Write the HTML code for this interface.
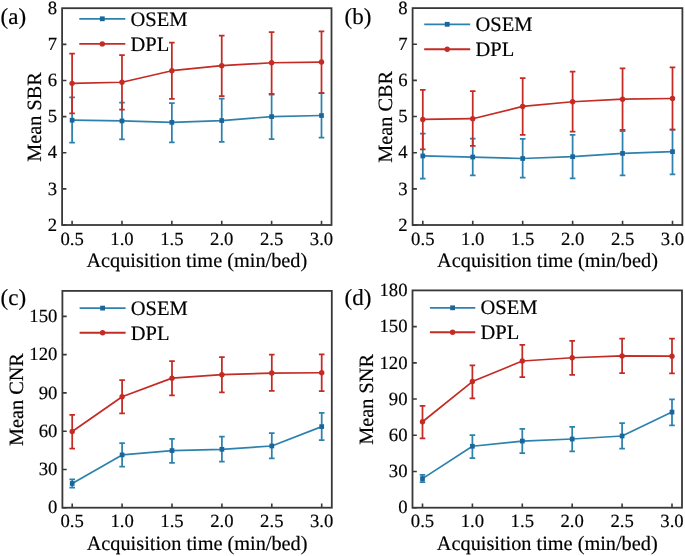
<!DOCTYPE html>
<html><head><meta charset="utf-8"><style>
html,body{margin:0;padding:0;background:#fff;width:685px;height:556px;overflow:hidden}
svg{display:block}
text{font-family:"Liberation Serif", serif;fill:#000;stroke:#000;stroke-width:0.18px}
svg{will-change:transform}
text{text-rendering:geometricPrecision}
</style></head><body>
<svg width="685" height="556" viewBox="0 0 685 556">
<rect width="685" height="556" fill="#fff"/>
<polyline points="72.1,120.21 121.98,120.94 171.86,122.38 221.74,120.57 271.62,116.6 321.5,115.52" fill="none" stroke="#2d82ad" stroke-width="1.7" stroke-linejoin="round"/>
<path d="M72.1 97.45V142.62M69.3 97.45H74.9M69.3 142.62H74.9" stroke="#2d82ad" stroke-width="1.75" fill="none"/>
<path d="M121.98 102.51V139.36M119.18 102.51H124.78M119.18 139.36H124.78" stroke="#2d82ad" stroke-width="1.75" fill="none"/>
<path d="M171.86 103.23V142.25M169.06 103.23H174.66M169.06 142.25H174.66" stroke="#2d82ad" stroke-width="1.75" fill="none"/>
<path d="M221.74 98.53V141.89M218.94 98.53H224.54M218.94 141.89H224.54" stroke="#2d82ad" stroke-width="1.75" fill="none"/>
<path d="M271.62 94.56V139M268.82 94.56H274.42M268.82 139H274.42" stroke="#2d82ad" stroke-width="1.75" fill="none"/>
<path d="M321.5 93.11V137.56M318.7 93.11H324.3M318.7 137.56H324.3" stroke="#2d82ad" stroke-width="1.75" fill="none"/>
<rect x="69.75" y="117.86" width="4.7" height="4.7" fill="#1a659c"/>
<rect x="119.63" y="118.59" width="4.7" height="4.7" fill="#1a659c"/>
<rect x="169.51" y="120.03" width="4.7" height="4.7" fill="#1a659c"/>
<rect x="219.39" y="118.22" width="4.7" height="4.7" fill="#1a659c"/>
<rect x="269.27" y="114.25" width="4.7" height="4.7" fill="#1a659c"/>
<rect x="319.15" y="113.17" width="4.7" height="4.7" fill="#1a659c"/>
<polyline points="72.1,83.36 121.98,82.27 171.86,70.71 221.74,65.65 271.62,62.76 321.5,62.04" fill="none" stroke="#c42b24" stroke-width="1.7" stroke-linejoin="round"/>
<path d="M72.1 53.73V113.35M69.3 53.73H74.9M69.3 113.35H74.9" stroke="#c42b24" stroke-width="1.75" fill="none"/>
<path d="M121.98 55.17V109.73M119.18 55.17H124.78M119.18 109.73H124.78" stroke="#c42b24" stroke-width="1.75" fill="none"/>
<path d="M171.86 42.53V98.89M169.06 42.53H174.66M169.06 98.89H174.66" stroke="#c42b24" stroke-width="1.75" fill="none"/>
<path d="M221.74 35.66V96M218.94 35.66H224.54M218.94 96H224.54" stroke="#c42b24" stroke-width="1.75" fill="none"/>
<path d="M271.62 32.05V93.84M268.82 32.05H274.42M268.82 93.84H274.42" stroke="#c42b24" stroke-width="1.75" fill="none"/>
<path d="M321.5 31.33V93.11M318.7 31.33H324.3M318.7 93.11H324.3" stroke="#c42b24" stroke-width="1.75" fill="none"/>
<circle cx="72.1" cy="83.36" r="2.7" fill="#c42b24"/>
<circle cx="121.98" cy="82.27" r="2.7" fill="#c42b24"/>
<circle cx="171.86" cy="70.71" r="2.7" fill="#c42b24"/>
<circle cx="221.74" cy="65.65" r="2.7" fill="#c42b24"/>
<circle cx="271.62" cy="62.76" r="2.7" fill="#c42b24"/>
<circle cx="321.5" cy="62.04" r="2.7" fill="#c42b24"/>
<rect x="62.1" y="8.2" width="269.4" height="216.8" fill="none" stroke="#383838" stroke-width="1.8"/>
<path d="M72.1 225v-4.3M121.98 225v-4.3M171.86 225v-4.3M221.74 225v-4.3M271.62 225v-4.3M321.5 225v-4.3M62.1 225h4.3M62.1 188.87h4.3M62.1 152.73h4.3M62.1 116.6h4.3M62.1 80.47h4.3M62.1 44.33h4.3" stroke="#383838" stroke-width="1.6" fill="none"/>
<text x="72.1" y="244.5" text-anchor="middle" font-size="18.7">0.5</text>
<text x="121.98" y="244.5" text-anchor="middle" font-size="18.7">1.0</text>
<text x="171.86" y="244.5" text-anchor="middle" font-size="18.7">1.5</text>
<text x="221.74" y="244.5" text-anchor="middle" font-size="18.7">2.0</text>
<text x="271.62" y="244.5" text-anchor="middle" font-size="18.7">2.5</text>
<text x="321.5" y="244.5" text-anchor="middle" font-size="18.7">3.0</text>
<text x="57.1" y="230.7" text-anchor="end" font-size="18.7">2</text>
<text x="57.1" y="194.57" text-anchor="end" font-size="18.7">3</text>
<text x="57.1" y="158.43" text-anchor="end" font-size="18.7">4</text>
<text x="57.1" y="122.3" text-anchor="end" font-size="18.7">5</text>
<text x="57.1" y="86.17" text-anchor="end" font-size="18.7">6</text>
<text x="57.1" y="50.03" text-anchor="end" font-size="18.7">7</text>
<text x="57.1" y="13.9" text-anchor="end" font-size="18.7">8</text>
<text x="196.8" y="266.8" text-anchor="middle" font-size="20.3">Acquisition time (min/bed)</text>
<text transform="translate(40.7,116.9) rotate(-90)" text-anchor="middle" font-size="20.3">Mean SBR</text>
<path d="M79.3 18.8H125.3" stroke="#2d82ad" stroke-width="1.85"/>
<rect x="99.9" y="16.4" width="4.8" height="4.8" fill="#1a659c"/>
<text x="130.5" y="25.5" font-size="20.5">OSEM</text>
<path d="M79.3 43.9H125.3" stroke="#c42b24" stroke-width="1.85"/>
<circle cx="102.3" cy="43.9" r="2.7" fill="#c42b24"/>
<text x="130.5" y="50.7" font-size="20.5">DPL</text>
<text x="0.6" y="24.1" font-size="23">(a)</text>
<polyline points="422.8,155.95 472.74,157.04 522.68,158.48 572.62,156.68 622.56,153.42 672.5,151.62" fill="none" stroke="#2d82ad" stroke-width="1.7" stroke-linejoin="round"/>
<path d="M422.8 133.54V178.73M420 133.54H425.6M420 178.73H425.6" stroke="#2d82ad" stroke-width="1.75" fill="none"/>
<path d="M472.74 138.6V175.47M469.94 138.6H475.54M469.94 175.47H475.54" stroke="#2d82ad" stroke-width="1.75" fill="none"/>
<path d="M522.68 138.96V177.64M519.88 138.96H525.48M519.88 177.64H525.48" stroke="#2d82ad" stroke-width="1.75" fill="none"/>
<path d="M572.62 134.99V178.37M569.82 134.99H575.42M569.82 178.37H575.42" stroke="#2d82ad" stroke-width="1.75" fill="none"/>
<path d="M622.56 131.01V175.47M619.76 131.01H625.36M619.76 175.47H625.36" stroke="#2d82ad" stroke-width="1.75" fill="none"/>
<path d="M672.5 129.56V174.39M669.7 129.56H675.3M669.7 174.39H675.3" stroke="#2d82ad" stroke-width="1.75" fill="none"/>
<rect x="420.45" y="153.6" width="4.7" height="4.7" fill="#1a659c"/>
<rect x="470.39" y="154.69" width="4.7" height="4.7" fill="#1a659c"/>
<rect x="520.33" y="156.13" width="4.7" height="4.7" fill="#1a659c"/>
<rect x="570.27" y="154.33" width="4.7" height="4.7" fill="#1a659c"/>
<rect x="620.21" y="151.07" width="4.7" height="4.7" fill="#1a659c"/>
<rect x="670.15" y="149.27" width="4.7" height="4.7" fill="#1a659c"/>
<polyline points="422.8,119.44 472.74,118.72 522.68,106.43 572.62,101.73 622.56,99.2 672.5,98.48" fill="none" stroke="#c42b24" stroke-width="1.7" stroke-linejoin="round"/>
<path d="M422.8 89.8V149.45M420 89.8H425.6M420 149.45H425.6" stroke="#c42b24" stroke-width="1.75" fill="none"/>
<path d="M472.74 91.24V145.83M469.94 91.24H475.54M469.94 145.83H475.54" stroke="#c42b24" stroke-width="1.75" fill="none"/>
<path d="M522.68 78.23V134.99M519.88 78.23H525.48M519.88 134.99H525.48" stroke="#c42b24" stroke-width="1.75" fill="none"/>
<path d="M572.62 71.72V131.73M569.82 71.72H575.42M569.82 131.73H575.42" stroke="#c42b24" stroke-width="1.75" fill="none"/>
<path d="M622.56 68.47V129.93M619.76 68.47H625.36M619.76 129.93H625.36" stroke="#c42b24" stroke-width="1.75" fill="none"/>
<path d="M672.5 67.39V129.56M669.7 67.39H675.3M669.7 129.56H675.3" stroke="#c42b24" stroke-width="1.75" fill="none"/>
<circle cx="422.8" cy="119.44" r="2.7" fill="#c42b24"/>
<circle cx="472.74" cy="118.72" r="2.7" fill="#c42b24"/>
<circle cx="522.68" cy="106.43" r="2.7" fill="#c42b24"/>
<circle cx="572.62" cy="101.73" r="2.7" fill="#c42b24"/>
<circle cx="622.56" cy="99.2" r="2.7" fill="#c42b24"/>
<circle cx="672.5" cy="98.48" r="2.7" fill="#c42b24"/>
<rect x="412.6" y="8.1" width="269.8" height="216.9" fill="none" stroke="#383838" stroke-width="1.8"/>
<path d="M422.8 225v-4.3M472.74 225v-4.3M522.68 225v-4.3M572.62 225v-4.3M622.56 225v-4.3M672.5 225v-4.3M412.6 225h4.3M412.6 188.85h4.3M412.6 152.7h4.3M412.6 116.55h4.3M412.6 80.4h4.3M412.6 44.25h4.3" stroke="#383838" stroke-width="1.6" fill="none"/>
<text x="422.8" y="244.5" text-anchor="middle" font-size="18.7">0.5</text>
<text x="472.74" y="244.5" text-anchor="middle" font-size="18.7">1.0</text>
<text x="522.68" y="244.5" text-anchor="middle" font-size="18.7">1.5</text>
<text x="572.62" y="244.5" text-anchor="middle" font-size="18.7">2.0</text>
<text x="622.56" y="244.5" text-anchor="middle" font-size="18.7">2.5</text>
<text x="672.5" y="244.5" text-anchor="middle" font-size="18.7">3.0</text>
<text x="407.6" y="230.7" text-anchor="end" font-size="18.7">2</text>
<text x="407.6" y="194.55" text-anchor="end" font-size="18.7">3</text>
<text x="407.6" y="158.4" text-anchor="end" font-size="18.7">4</text>
<text x="407.6" y="122.25" text-anchor="end" font-size="18.7">5</text>
<text x="407.6" y="86.1" text-anchor="end" font-size="18.7">6</text>
<text x="407.6" y="49.95" text-anchor="end" font-size="18.7">7</text>
<text x="407.6" y="13.8" text-anchor="end" font-size="18.7">8</text>
<text x="547.5" y="266.8" text-anchor="middle" font-size="20.3">Acquisition time (min/bed)</text>
<text transform="translate(391.5,116.85) rotate(-90)" text-anchor="middle" font-size="20.3">Mean CBR</text>
<path d="M424.2 24.3H470.2" stroke="#2d82ad" stroke-width="1.85"/>
<rect x="444.8" y="21.9" width="4.8" height="4.8" fill="#1a659c"/>
<text x="475.5" y="31.2" font-size="20.5">OSEM</text>
<path d="M424.2 49.2H470.2" stroke="#c42b24" stroke-width="1.85"/>
<circle cx="447.2" cy="49.2" r="2.7" fill="#c42b24"/>
<text x="475.5" y="56" font-size="20.5">DPL</text>
<text x="344.6" y="24.1" font-size="23">(b)</text>
<polyline points="72.2,483.47 122.1,454.9 172,450.57 221.9,449.29 271.8,445.98 321.7,426.59" fill="none" stroke="#2d82ad" stroke-width="1.7" stroke-linejoin="round"/>
<path d="M72.2 479.39V487.55M69.4 479.39H75M69.4 487.55H75" stroke="#2d82ad" stroke-width="1.75" fill="none"/>
<path d="M122.1 443.04V466.51M119.3 443.04H124.9M119.3 466.51H124.9" stroke="#2d82ad" stroke-width="1.75" fill="none"/>
<path d="M172 438.83V462.81M169.2 438.83H174.8M169.2 462.81H174.8" stroke="#2d82ad" stroke-width="1.75" fill="none"/>
<path d="M221.9 436.54V461.66M219.1 436.54H224.7M219.1 461.66H224.7" stroke="#2d82ad" stroke-width="1.75" fill="none"/>
<path d="M271.8 433.1V458.47M269 433.1H274.6M269 458.47H274.6" stroke="#2d82ad" stroke-width="1.75" fill="none"/>
<path d="M321.7 412.95V440.11M318.9 412.95H324.5M318.9 440.11H324.5" stroke="#2d82ad" stroke-width="1.75" fill="none"/>
<rect x="69.85" y="481.12" width="4.7" height="4.7" fill="#1a659c"/>
<rect x="119.75" y="452.55" width="4.7" height="4.7" fill="#1a659c"/>
<rect x="169.65" y="448.22" width="4.7" height="4.7" fill="#1a659c"/>
<rect x="219.55" y="446.94" width="4.7" height="4.7" fill="#1a659c"/>
<rect x="269.45" y="443.63" width="4.7" height="4.7" fill="#1a659c"/>
<rect x="319.35" y="424.24" width="4.7" height="4.7" fill="#1a659c"/>
<polyline points="72.2,431.56 122.1,396.75 172,378.13 221.9,374.69 271.8,373.03 321.7,372.77" fill="none" stroke="#c42b24" stroke-width="1.7" stroke-linejoin="round"/>
<path d="M72.2 414.86V448.53M69.4 414.86H75M69.4 448.53H75" stroke="#c42b24" stroke-width="1.75" fill="none"/>
<path d="M122.1 380.04V413.46M119.3 380.04H124.9M119.3 413.46H124.9" stroke="#c42b24" stroke-width="1.75" fill="none"/>
<path d="M172 361.17V395.35M169.2 361.17H174.8M169.2 395.35H174.8" stroke="#c42b24" stroke-width="1.75" fill="none"/>
<path d="M221.9 357.09V392.41M219.1 357.09H224.7M219.1 392.41H224.7" stroke="#c42b24" stroke-width="1.75" fill="none"/>
<path d="M271.8 354.66V390.76M269 354.66H274.6M269 390.76H274.6" stroke="#c42b24" stroke-width="1.75" fill="none"/>
<path d="M321.7 354.41V391.01M318.9 354.41H324.5M318.9 391.01H324.5" stroke="#c42b24" stroke-width="1.75" fill="none"/>
<circle cx="72.2" cy="431.56" r="2.7" fill="#c42b24"/>
<circle cx="122.1" cy="396.75" r="2.7" fill="#c42b24"/>
<circle cx="172" cy="378.13" r="2.7" fill="#c42b24"/>
<circle cx="221.9" cy="374.69" r="2.7" fill="#c42b24"/>
<circle cx="271.8" cy="373.03" r="2.7" fill="#c42b24"/>
<circle cx="321.7" cy="372.77" r="2.7" fill="#c42b24"/>
<rect x="62.4" y="290.9" width="269.4" height="216.8" fill="none" stroke="#383838" stroke-width="1.8"/>
<path d="M72.2 507.7v-4.3M122.1 507.7v-4.3M172 507.7v-4.3M221.9 507.7v-4.3M271.8 507.7v-4.3M321.7 507.7v-4.3M62.4 507.7h4.3M62.4 469.44h4.3M62.4 431.18h4.3M62.4 392.92h4.3M62.4 354.66h4.3M62.4 316.41h4.3" stroke="#383838" stroke-width="1.6" fill="none"/>
<text x="72.2" y="527.2" text-anchor="middle" font-size="18.7">0.5</text>
<text x="122.1" y="527.2" text-anchor="middle" font-size="18.7">1.0</text>
<text x="172" y="527.2" text-anchor="middle" font-size="18.7">1.5</text>
<text x="221.9" y="527.2" text-anchor="middle" font-size="18.7">2.0</text>
<text x="271.8" y="527.2" text-anchor="middle" font-size="18.7">2.5</text>
<text x="321.7" y="527.2" text-anchor="middle" font-size="18.7">3.0</text>
<text x="57.4" y="513.4" text-anchor="end" font-size="18.7">0</text>
<text x="57.4" y="475.14" text-anchor="end" font-size="18.7">30</text>
<text x="57.4" y="436.88" text-anchor="end" font-size="18.7">60</text>
<text x="57.4" y="398.62" text-anchor="end" font-size="18.7">90</text>
<text x="57.4" y="360.36" text-anchor="end" font-size="18.7">120</text>
<text x="57.4" y="322.11" text-anchor="end" font-size="18.7">150</text>
<text x="197.1" y="549.5" text-anchor="middle" font-size="20.3">Acquisition time (min/bed)</text>
<text transform="translate(22.5,399.6) rotate(-90)" text-anchor="middle" font-size="20.3">Mean CNR</text>
<path d="M79.6 308.1H125.6" stroke="#2d82ad" stroke-width="1.85"/>
<rect x="100.2" y="305.7" width="4.8" height="4.8" fill="#1a659c"/>
<text x="130.8" y="314.5" font-size="20.5">OSEM</text>
<path d="M79.6 332.7H125.6" stroke="#c42b24" stroke-width="1.85"/>
<circle cx="102.6" cy="332.7" r="2.7" fill="#c42b24"/>
<text x="130.8" y="339.9" font-size="20.5">DPL</text>
<text x="0.6" y="305.2" font-size="23">(c)</text>
<polyline points="422.5,478.61 472.4,446.25 522.3,441.06 572.2,439.01 622.1,435.99 672,412.09" fill="none" stroke="#2d82ad" stroke-width="1.7" stroke-linejoin="round"/>
<path d="M422.5 474.98V482.23M419.7 474.98H425.3M419.7 482.23H425.3" stroke="#2d82ad" stroke-width="1.75" fill="none"/>
<path d="M472.4 435.03V458.2M469.6 435.03H475.2M469.6 458.2H475.2" stroke="#2d82ad" stroke-width="1.75" fill="none"/>
<path d="M522.3 428.75V453.01M519.5 428.75H525.1M519.5 453.01H525.1" stroke="#2d82ad" stroke-width="1.75" fill="none"/>
<path d="M572.2 426.82V451.32M569.4 426.82H575M569.4 451.32H575" stroke="#2d82ad" stroke-width="1.75" fill="none"/>
<path d="M622.1 423.07V448.55M619.3 423.07H624.9M619.3 448.55H624.9" stroke="#2d82ad" stroke-width="1.75" fill="none"/>
<path d="M672 399.29V425.37M669.2 399.29H674.8M669.2 425.37H674.8" stroke="#2d82ad" stroke-width="1.75" fill="none"/>
<rect x="420.15" y="476.26" width="4.7" height="4.7" fill="#1a659c"/>
<rect x="470.05" y="443.9" width="4.7" height="4.7" fill="#1a659c"/>
<rect x="519.95" y="438.71" width="4.7" height="4.7" fill="#1a659c"/>
<rect x="569.85" y="436.66" width="4.7" height="4.7" fill="#1a659c"/>
<rect x="619.75" y="433.64" width="4.7" height="4.7" fill="#1a659c"/>
<rect x="669.65" y="409.74" width="4.7" height="4.7" fill="#1a659c"/>
<polyline points="422.5,421.75 472.4,381.55 522.3,361.02 572.2,357.76 622.1,355.95 672,356.19" fill="none" stroke="#c42b24" stroke-width="1.7" stroke-linejoin="round"/>
<path d="M422.5 405.93V438.28M419.7 405.93H425.3M419.7 438.28H425.3" stroke="#c42b24" stroke-width="1.75" fill="none"/>
<path d="M472.4 365.25V398.33M469.6 365.25H475.2M469.6 398.33H475.2" stroke="#c42b24" stroke-width="1.75" fill="none"/>
<path d="M522.3 344.85V377.2M519.5 344.85H525.1M519.5 377.2H525.1" stroke="#c42b24" stroke-width="1.75" fill="none"/>
<path d="M572.2 340.98V374.78M569.4 340.98H575M569.4 374.78H575" stroke="#c42b24" stroke-width="1.75" fill="none"/>
<path d="M622.1 338.69V373.09M619.3 338.69H624.9M619.3 373.09H624.9" stroke="#c42b24" stroke-width="1.75" fill="none"/>
<path d="M672 338.69V373.34M669.2 338.69H674.8M669.2 373.34H674.8" stroke="#c42b24" stroke-width="1.75" fill="none"/>
<circle cx="422.5" cy="421.75" r="2.7" fill="#c42b24"/>
<circle cx="472.4" cy="381.55" r="2.7" fill="#c42b24"/>
<circle cx="522.3" cy="361.02" r="2.7" fill="#c42b24"/>
<circle cx="572.2" cy="357.76" r="2.7" fill="#c42b24"/>
<circle cx="622.1" cy="355.95" r="2.7" fill="#c42b24"/>
<circle cx="672" cy="356.19" r="2.7" fill="#c42b24"/>
<rect x="412.5" y="290.4" width="269.5" height="217.3" fill="none" stroke="#383838" stroke-width="1.8"/>
<path d="M422.5 507.7v-4.3M472.4 507.7v-4.3M522.3 507.7v-4.3M572.2 507.7v-4.3M622.1 507.7v-4.3M672 507.7v-4.3M412.5 507.7h4.3M412.5 471.48h4.3M412.5 435.27h4.3M412.5 399.05h4.3M412.5 362.83h4.3M412.5 326.62h4.3" stroke="#383838" stroke-width="1.6" fill="none"/>
<text x="422.5" y="527.2" text-anchor="middle" font-size="18.7">0.5</text>
<text x="472.4" y="527.2" text-anchor="middle" font-size="18.7">1.0</text>
<text x="522.3" y="527.2" text-anchor="middle" font-size="18.7">1.5</text>
<text x="572.2" y="527.2" text-anchor="middle" font-size="18.7">2.0</text>
<text x="622.1" y="527.2" text-anchor="middle" font-size="18.7">2.5</text>
<text x="672" y="527.2" text-anchor="middle" font-size="18.7">3.0</text>
<text x="407.5" y="513.4" text-anchor="end" font-size="18.7">0</text>
<text x="407.5" y="477.18" text-anchor="end" font-size="18.7">30</text>
<text x="407.5" y="440.97" text-anchor="end" font-size="18.7">60</text>
<text x="407.5" y="404.75" text-anchor="end" font-size="18.7">90</text>
<text x="407.5" y="368.53" text-anchor="end" font-size="18.7">120</text>
<text x="407.5" y="332.32" text-anchor="end" font-size="18.7">150</text>
<text x="407.5" y="296.1" text-anchor="end" font-size="18.7">180</text>
<text x="547.25" y="549.5" text-anchor="middle" font-size="20.3">Acquisition time (min/bed)</text>
<text transform="translate(372.5,399.35) rotate(-90)" text-anchor="middle" font-size="20.3">Mean SNR</text>
<path d="M429.9 307.8H475.3" stroke="#2d82ad" stroke-width="1.85"/>
<rect x="450.2" y="305.4" width="4.8" height="4.8" fill="#1a659c"/>
<text x="480.5" y="314.3" font-size="20.5">OSEM</text>
<path d="M429.9 332.2H475.3" stroke="#c42b24" stroke-width="1.85"/>
<circle cx="452.6" cy="332.2" r="2.7" fill="#c42b24"/>
<text x="480.5" y="339.3" font-size="20.5">DPL</text>
<text x="344.6" y="305" font-size="23">(d)</text>
</svg>
</body></html>
